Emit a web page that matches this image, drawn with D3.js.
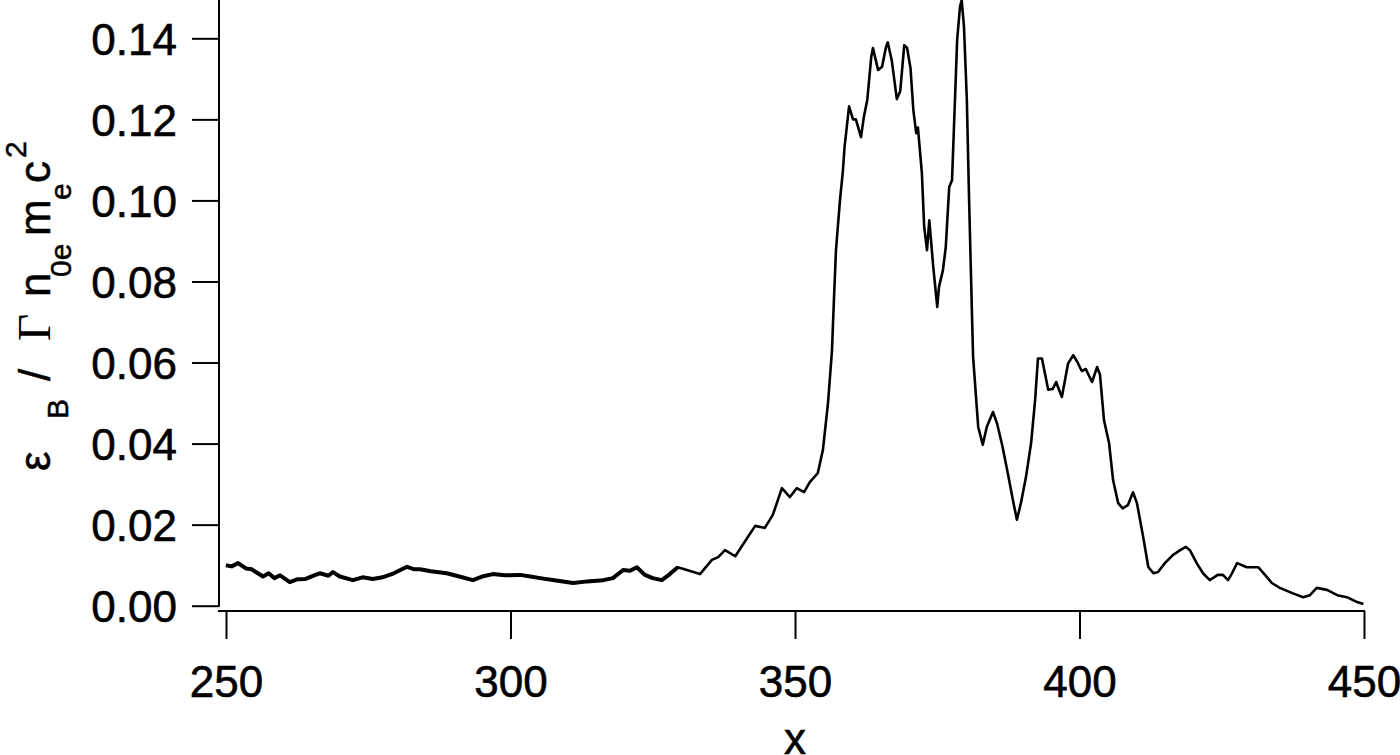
<!DOCTYPE html>
<html>
<head>
<meta charset="utf-8">
<script src="https://cdn.jsdelivr.net/npm/d3@7"></script>
<style>
  html, body { margin: 0; padding: 0; background: #fff; }
  svg { display: block; }
  text { font-family: "Liberation Sans", Arial, sans-serif; fill: #000; }
</style>
</head>
<body>
<svg id="chart" width="1400" height="755"></svg>
<script>
// ---- data ----
const xValues = [
  250, 251, 252.1, 253.5, 254.5, 256.5, 257.5, 258.5, 259.5, 261.2,
  262.5, 264, 265.5, 266.5, 268, 268.8, 270, 272.3, 274, 275.8,
  277.5, 279.5, 281.8, 283, 284.1, 286, 288.8, 291, 293.4, 295,
  296.9, 299, 301.7, 303.5, 305.2, 308, 311, 313.5, 316.3, 318,
  319.8, 321, 322.2, 323.6, 325, 326.6, 328, 329.4, 331, 333.3,
  335.4, 336.5, 337.7, 339.5, 341.6, 343, 344.7, 346.1, 347.7, 349.1,
  350.3, 351.6, 352.6, 354.0, 354.9, 355.8, 356.5, 356.8, 357.2, 357.9,
  358.4, 358.7, 359.5, 360.2, 360.7, 361.6, 362.1, 362.7, 363.4, 363.7,
  364.6, 365.3, 366.0, 366.3, 367.0, 367.9, 368.5, 369.2, 369.7, 370.3,
  370.8, 371.3, 371.6, 372.3, 372.7, 373.2, 373.6, 374.3, 375.0, 375.3,
  376.0, 376.5, 377.1, 377.6, 377.9, 378.5, 379.0, 379.3, 379.7, 380.2,
  380.6, 381.1, 381.3, 382.2, 383.0, 383.7, 384.8, 385.5, 386.4, 387.4,
  388.3, 389.0, 389.7, 390.6, 391.5, 392.2, 392.7, 393.4, 394.5, 395.3,
  395.9, 396.2, 396.9, 398.0, 398.9, 399.6, 400.4, 401.1, 402.2, 403.1,
  403.6, 404.3, 405.2, 405.9, 406.8, 407.6, 408.5, 409.4, 410.1, 411.2,
  412.1, 413.0, 413.8, 415.0, 416.4, 417.7, 418.7, 419.4, 420.6, 421.7,
  422.9, 424.3, 425.2, 426.1, 426.8, 427.7, 429.4, 431.4, 432.6, 433.8,
  435.2, 437.4, 439.3, 440.5, 441.7, 443.5, 445.3, 447.0, 448.8, 449.9
];
const epsB = [
  0.0100, 0.0097, 0.0105, 0.0092, 0.0090, 0.0072, 0.0080, 0.0068, 0.0075, 0.0058,
  0.0065, 0.0066, 0.0075, 0.0080, 0.0074, 0.0083, 0.0072, 0.0063, 0.0070, 0.0066,
  0.0070, 0.0080, 0.0096, 0.0090, 0.0090, 0.0085, 0.0080, 0.0072, 0.0063, 0.0072,
  0.0078, 0.0075, 0.0076, 0.0072, 0.0068, 0.0062, 0.0056, 0.0060, 0.0063, 0.0068,
  0.0088, 0.0086, 0.0095, 0.0076, 0.0068, 0.0063, 0.0078, 0.0095, 0.0088, 0.0078,
  0.0113, 0.0120, 0.0137, 0.0122, 0.0167, 0.0197, 0.0192, 0.0224, 0.0290, 0.0268,
  0.0290, 0.0280, 0.0305, 0.0327, 0.0384, 0.0500, 0.0630, 0.0740, 0.0877, 0.1000,
  0.1070, 0.1130, 0.1232, 0.1200, 0.1200, 0.1156, 0.1206, 0.1248, 0.1354, 0.1376,
  0.1322, 0.1330, 0.1379, 0.1390, 0.1346, 0.1250, 0.1270, 0.1383, 0.1376, 0.1326,
  0.1223, 0.1166, 0.1180, 0.1067, 0.0935, 0.0877, 0.0951, 0.0836, 0.0737, 0.0786,
  0.0828, 0.0885, 0.1033, 0.1050, 0.1166, 0.1396, 0.1478, 0.1494, 0.1428, 0.1248,
  0.1000, 0.0720, 0.0614, 0.0441, 0.0397, 0.0441, 0.0478, 0.0450, 0.0397, 0.0327,
  0.0260, 0.0212, 0.0253, 0.0318, 0.0402, 0.0508, 0.0610, 0.0610, 0.0533, 0.0535,
  0.0552, 0.0540, 0.0515, 0.0598, 0.0618, 0.0602, 0.0579, 0.0584, 0.0552, 0.0589,
  0.0570, 0.0458, 0.0401, 0.0310, 0.0253, 0.0240, 0.0248, 0.0280, 0.0253, 0.0169,
  0.0095, 0.0080, 0.0083, 0.0105, 0.0125, 0.0137, 0.0145, 0.0137, 0.0105, 0.0080,
  0.0063, 0.0076, 0.0076, 0.0063, 0.0080, 0.0105, 0.0095, 0.0095, 0.0076, 0.0056,
  0.0044, 0.0031, 0.0021, 0.0026, 0.0044, 0.0039, 0.0026, 0.0021, 0.0009, 0.0004
];
const xTicks = [250, 300, 350, 400, 450];
const yTicks = [0.00, 0.02, 0.04, 0.06, 0.08, 0.10, 0.12, 0.14];
const noisyEnd = 330; // high-frequency jitter region drawn with a heavier stroke

// ---- layout ----
const svg = d3.select("#chart");
const x = d3.scaleLinear().domain([250, 450]).range([226, 1364]);
const y = d3.scaleLinear().domain([0, 0.14]).range([605.7, 38.3]);
const yAxisX = 219;
const xAxisY = 611;
const labelFont = "Liberation Sans, Arial, sans-serif";

const data = xValues.map((v, i) => ({ x: v, y: epsB[i] }));

// y axis
const gy = svg.append("g").attr("transform", `translate(${yAxisX},0)`)
  .call(d3.axisLeft(y).tickValues(yTicks).tickSize(27).tickSizeOuter(0)
    .tickFormat(d3.format(".2f")));
gy.select(".domain").remove();
gy.append("line").attr("x1", 0).attr("x2", 0).attr("y1", 0).attr("y2", y(0) + 1)
  .attr("stroke", "#000").attr("stroke-width", 2);
gy.selectAll(".tick line").attr("stroke", "#000").attr("stroke-width", 2);
gy.selectAll(".tick text").attr("x", -42).attr("dy", "0.36em")
  .style("font-size", "44px").style("font-family", labelFont)
  .attr("fill", "#000").attr("stroke", "#000").attr("stroke-width", 0.6);

// x axis
const gx = svg.append("g").attr("transform", `translate(0,${xAxisY})`)
  .call(d3.axisBottom(x).tickValues(xTicks).tickSize(28).tickSizeOuter(0)
    .tickFormat(d3.format("d")));
gx.select(".domain").remove();
gx.append("line").attr("x1", yAxisX - 1).attr("x2", x(450) + 1).attr("y1", 0).attr("y2", 0)
  .attr("stroke", "#000").attr("stroke-width", 2);
gx.selectAll(".tick line").attr("stroke", "#000").attr("stroke-width", 2);
gx.selectAll(".tick text").attr("y", 86).attr("dy", 0)
  .style("font-size", "44px").style("font-family", labelFont)
  .attr("fill", "#000").attr("stroke", "#000").attr("stroke-width", 0.6);

// curve
const line = d3.line().x(d => x(d.x)).y(d => y(d.y)).curve(d3.curveLinear);
svg.append("path").datum(data).attr("d", line)
  .attr("fill", "none").attr("stroke", "#000").attr("stroke-width", 2.6)
  .attr("stroke-linejoin", "round");
svg.append("path").datum(data.filter(d => d.x <= noisyEnd)).attr("d", line)
  .attr("fill", "none").attr("stroke", "#000").attr("stroke-width", 4)
  .attr("stroke-linejoin", "round");

// x label
svg.append("text").attr("x", (x(250) + x(450)) / 2).attr("y", 754)
  .attr("text-anchor", "middle").style("font-size", "44px")
  .attr("stroke", "#000").attr("stroke-width", 0.6).text("x");

// y label (rotated, with sub/superscripts)
const gt = svg.append("g").attr("transform", "translate(50,0) rotate(-90)");
const pieces = [
  { t: "\u03B5", sy: 471, o: 0, s: 44 },
  { t: "B", sy: 419, o: 18, s: 30 },
  { t: "/", sy: 381, o: 0, s: 44 },
  { t: "\u0393", sy: 341, o: 0, s: 47, serif: true },
  { t: "n", sy: 297, o: 0, s: 44 },
  { t: "0e", sy: 277, o: 21, s: 30 },
  { t: "m", sy: 236, o: 0, s: 44 },
  { t: "e", sy: 200, o: 21, s: 30 },
  { t: "c", sy: 183, o: 0, s: 44 },
  { t: "2", sy: 158, o: -24, s: 30 }
];
pieces.forEach(p => {
  gt.append("text").attr("x", -p.sy).attr("y", p.o)
    .style("font-size", p.s + "px")
    .style("font-family", p.serif ? "Liberation Serif, DejaVu Serif, serif" : labelFont)
    .attr("stroke", "#000").attr("stroke-width", p.serif ? 0 : 0.5)
    .text(p.t);
});
</script>
</body>
</html>
